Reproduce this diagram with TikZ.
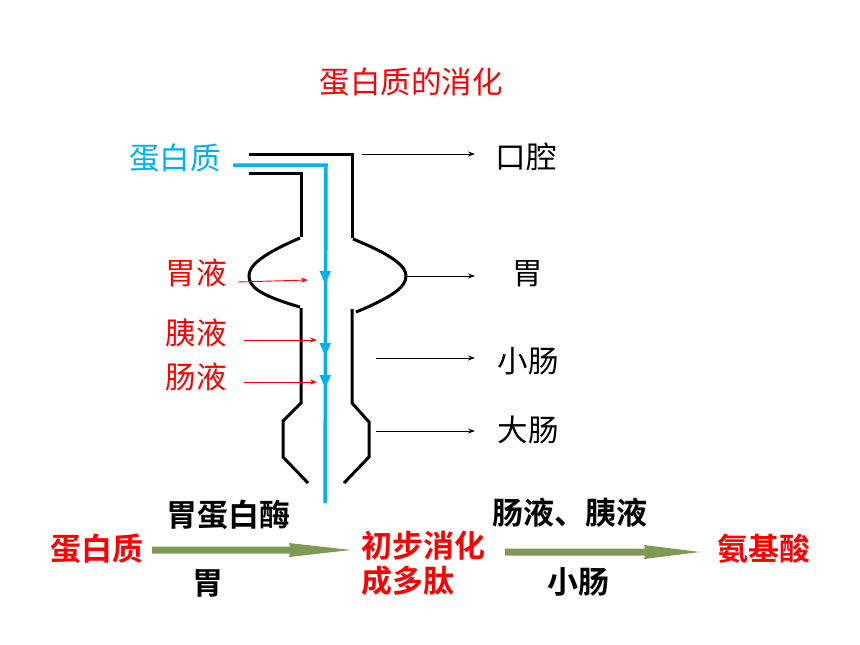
\documentclass[tikz,border=0pt]{standalone}
\usepackage{fontspec}
\setmainfont{Noto Sans CJK SC}[BoldFont={Noto Sans CJK SC Bold}]
\usetikzlibrary{arrows.meta}
\definecolor{myred}{RGB}{255,0,0}
\definecolor{myblue}{RGB}{0,176,240}
\definecolor{mygreen}{RGB}{127,154,85}
\begin{document}
\begin{tikzpicture}[x=1pt,y=-1pt,
  txt/.style={inner sep=0pt,font=\fontsize{30.5}{33}\selectfont},
  btxt/.style={inner sep=0pt,font=\fontsize{31}{34}\selectfont\bfseries},
  tube/.style={line width=3pt,black,line join=miter},
  flow/.style={line width=3.5pt,myblue},
  thin/.style={line width=0.9pt,-{Stealth[length=7pt,width=5pt]}},
  redarr/.style={line width=0.9pt,myred,-{Stealth[length=7pt,width=5pt]}},
  bighead/.style={fill=mygreen,draw=none}]
\useasboundingbox (0,0) rectangle (860,645);
\fill[white] (0,0) rectangle (860,645);
% title
\node[txt,myred] (title) at (411,82) {蛋白质的消化};
% tube
\draw[tube] (249,154) -- (352,154) -- (352,238);
\draw[tube] (249,173) -- (301,173) -- (301,237);
\draw[tube] (353,239) .. controls (395,256) and (406,267) .. (406,276) .. controls (406,286) and (395,296) .. (356,312);
\draw[tube] (300,238) .. controls (258,256) and (249,267) .. (249,276) .. controls (249,286) and (258,295) .. (300,307);
\draw[tube] (301,308) -- (301,403) -- (283,421) -- (283,457) -- (308,483);
\draw[tube] (352,309) -- (352,403) -- (369,422) -- (369,457) -- (344,483);
% blue flow
\draw[flow] (233,165) -- (326,165) -- (325,503);
\foreach \yy in {278,350,382}{
  \fill[myblue] (319.5,\yy-7) -- (331,\yy-7) -- (325.3,\yy+6) -- cycle;
}
\node[txt,myblue] (prot) at (175,158) {蛋白质};
% right labels
\node[txt] (kq) at (526,157) {口腔};
\node[txt] (wei) at (528,274) {胃};
\node[txt] (xc) at (528,361) {小肠};
\node[txt] (dc) at (528,430) {大肠};
\coordinate (a1s) at (362,154); \coordinate (a1e) at (475,154);
\coordinate (a2s) at (407,276); \coordinate (a2e) at (475,276);
\coordinate (a3s) at (376,358); \coordinate (a3e) at (475,358);
\coordinate (a4s) at (376,431); \coordinate (a4e) at (475,431);
\draw[thin] (a1s) -- (a1e);
\draw[thin] (a2s) -- (a2e);
\draw[thin] (a3s) -- (a3e);
\draw[thin] (a4s) -- (a4e);
% red labels
\node[txt,myred] (wy) at (196,273) {胃液};
\node[txt,myred] (yy) at (196,333) {胰液};
\node[txt,myred] (cy) at (196,377) {肠液};
\coordinate (r1s) at (238,282); \coordinate (r1e) at (308,280);
\coordinate (r2s) at (244,340); \coordinate (r2e) at (317,340);
\coordinate (r3s) at (244,382); \coordinate (r3e) at (317,382);
\draw[redarr] (r1s) -- (r1e);
\draw[redarr] (r2s) -- (r2e);
\draw[redarr] (r3s) -- (r3e);
% bottom equation
\node[btxt,myred] (b1) at (97,549) {蛋白质};
\node[btxt] (enz1) at (228,515) {胃蛋白酶};
\node[btxt] (loc1) at (208,583) {胃};
\node[btxt,myred,anchor=west] (b2a) at (361,546) {初步消化};
\node[btxt,myred,anchor=west] (b2b) at (361,581) {成多肽};
\node[btxt] (enz2) at (570,513) {肠液、胰液};
\node[btxt] (loc2) at (578,582) {小肠};
\node[btxt,myred] (b3) at (764,549) {氨基酸};
\fill[bighead] (152,546.5) -- (290,546.5) -- (289,543) -- (351,550) -- (289,557) -- (290,553.5) -- (152,553.5) -- cycle;
\fill[bighead] (505,548.5) -- (645,548.5) -- (644,545) -- (700,552) -- (644,559) -- (645,555.5) -- (505,555.5) -- cycle;
\end{tikzpicture}
\end{document}
